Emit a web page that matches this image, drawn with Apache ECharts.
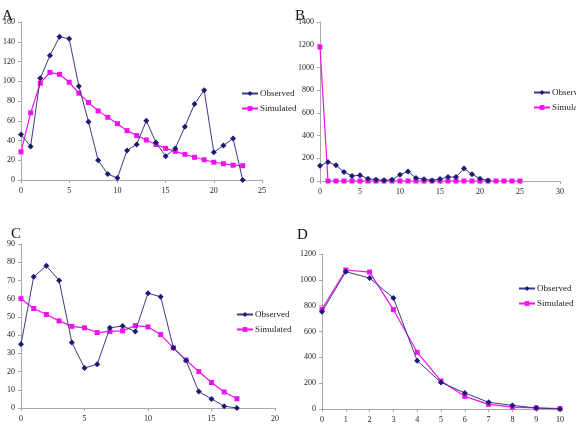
<!DOCTYPE html>
<html>
<head>
<meta charset="utf-8">
<script src="https://cdn.jsdelivr.net/npm/echarts@6/dist/echarts.min.js"></script>
<style>
  html, body { margin: 0; padding: 0; background: #fff; }
  #chart { width: 576px; height: 426px; }
</style>
</head>
<body>
<div id="chart"></div>
<script>
// panel A
var obsA = [46, 34, 103, 126, 145, 143, 95, 59, 20, 6, 2, 30, 36, 60, 38, 24, 32, 54, 77, 91, 28, 35, 42, 0];
var simA = [28.5, 68, 98, 109, 107, 99, 88, 78.5, 70, 63.5, 57, 50, 45, 40.5, 36, 32, 29, 26, 23, 20.5, 18, 16.5, 15, 14.5];
// panel B
var obsB = [135, 168, 138, 80, 45, 50, 20, 12, 6, 10, 56, 83, 27, 15, 5, 18, 35, 35, 110, 60, 20, 5];
var simB = [1180, 0, 0, 0, 0, 0, 0, 0, 0, 0, 0, 0, 0, 0, 0, 0, 0, 0, 0, 0, 0, 0, 0, 0, 0, 0];
// panel C
var obsC = [35, 72, 78, 70, 36, 22, 24, 44, 45, 42, 63, 61, 33, 26, 9, 5, 1, 0];
var simC = [60, 54.6, 51.3, 47.8, 44.8, 44, 41.4, 42, 42.3, 45.2, 44.5, 40.3, 33, 26.3, 20, 14, 8.8, 5.1];
// panel D
var obsD = [753, 1063, 1014, 859, 374, 206, 124, 52, 28, 8, 0];
var simD = [772, 1076, 1060, 769, 439, 217, 98, 36, 15, 8, 3];

var panelLetters = ['A', 'B', 'C', 'D'];
var xMax = [25, 30, 20, 10];
var xStep = [5, 5, 5, 1];
var yMax = [160, 1400, 90, 1200];
var yStep = [20, 200, 10, 200];

var NAVY = '#1c1c74';
var PINK = '#f010f0';
var SERIF = '"Liberation Serif", "DejaVu Serif", serif';

function pairs(arr) {
  return arr.map(function (v, i) { return [i, v]; });
}
function plain(v) { return String(v); }

var grids = [
  { left: 21, top: 22, width: 241, height: 158 },
  { left: 320, top: 22, width: 240, height: 159 },
  { left: 21, top: 244, width: 254, height: 164 },
  { left: 322, top: 254, width: 238, height: 155 }
];

var legendPos = [
  { left: 236, top: 84 },
  { left: 528, top: 83 },
  { left: 231, top: 305 },
  { left: 513, top: 279 }
];

var letterPos = [
  { left: -3, top: 4 },
  { left: 290, top: 4 },
  { left: 6, top: 222 },
  { left: 292, top: 223 }
];

var axisLine = { lineStyle: { color: '#a8a8a8', width: 1 } };

var xAxes = [], yAxes = [], legends = [], titles = [];
for (var i = 0; i < 4; i++) {
  xAxes.push({
    type: 'value', gridIndex: i, min: 0, max: xMax[i], interval: xStep[i],
    axisLine: axisLine, axisTick: { show: true, length: 3, lineStyle: { color: '#a8a8a8' } },
    splitLine: { show: false },
    axisLabel: { fontFamily: SERIF, fontSize: 8, color: '#222', margin: 7, formatter: plain }
  });
  yAxes.push({
    type: 'value', gridIndex: i, min: 0, max: yMax[i], interval: yStep[i],
    axisLine: { show: true, lineStyle: { color: '#a8a8a8', width: 1 } },
    axisTick: { show: true, length: 3, lineStyle: { color: '#a8a8a8' } },
    splitLine: { show: false },
    axisLabel: { fontFamily: SERIF, fontSize: 8, color: '#222', margin: 6, formatter: plain }
  });
  legends.push({
    left: legendPos[i].left, top: legendPos[i].top, orient: 'vertical',
    itemWidth: 16, itemHeight: 6, itemGap: 6,
    data: ['Observed', 'Simulated'],
    textStyle: { fontFamily: SERIF, fontSize: 9, color: '#222', padding: [0, 0, 0, -3] }
  });
  titles.push({
    text: panelLetters[i], left: letterPos[i].left, top: letterPos[i].top,
    textStyle: { fontFamily: SERIF, fontSize: 15, fontWeight: 'normal', color: '#111' }
  });
}

var obsData = [obsA, obsB, obsC, obsD];
var simData = [simA, simB, simC, simD];
var series = [];
for (var j = 0; j < 4; j++) {
  series.push({
    name: 'Observed', type: 'line', xAxisIndex: j, yAxisIndex: j,
    data: pairs(obsData[j]),
    symbol: 'diamond', symbolSize: 6,
    lineStyle: { color: '#3a3a86', width: 1 },
    itemStyle: { color: NAVY },
    z: 3
  });
  series.push({
    name: 'Simulated', type: 'line', xAxisIndex: j, yAxisIndex: j,
    data: pairs(simData[j]),
    symbol: 'rect', symbolSize: 5,
    lineStyle: { color: PINK, width: 1.2 },
    itemStyle: { color: PINK },
    z: 2
  });
}

var chart = echarts.init(document.getElementById('chart'), null, { renderer: 'canvas' });
chart.setOption({
  animation: false,
  backgroundColor: '#fff',
  title: titles,
  legend: legends,
  grid: grids,
  xAxis: xAxes,
  yAxis: yAxes,
  series: series
});
</script>
</body>
</html>
